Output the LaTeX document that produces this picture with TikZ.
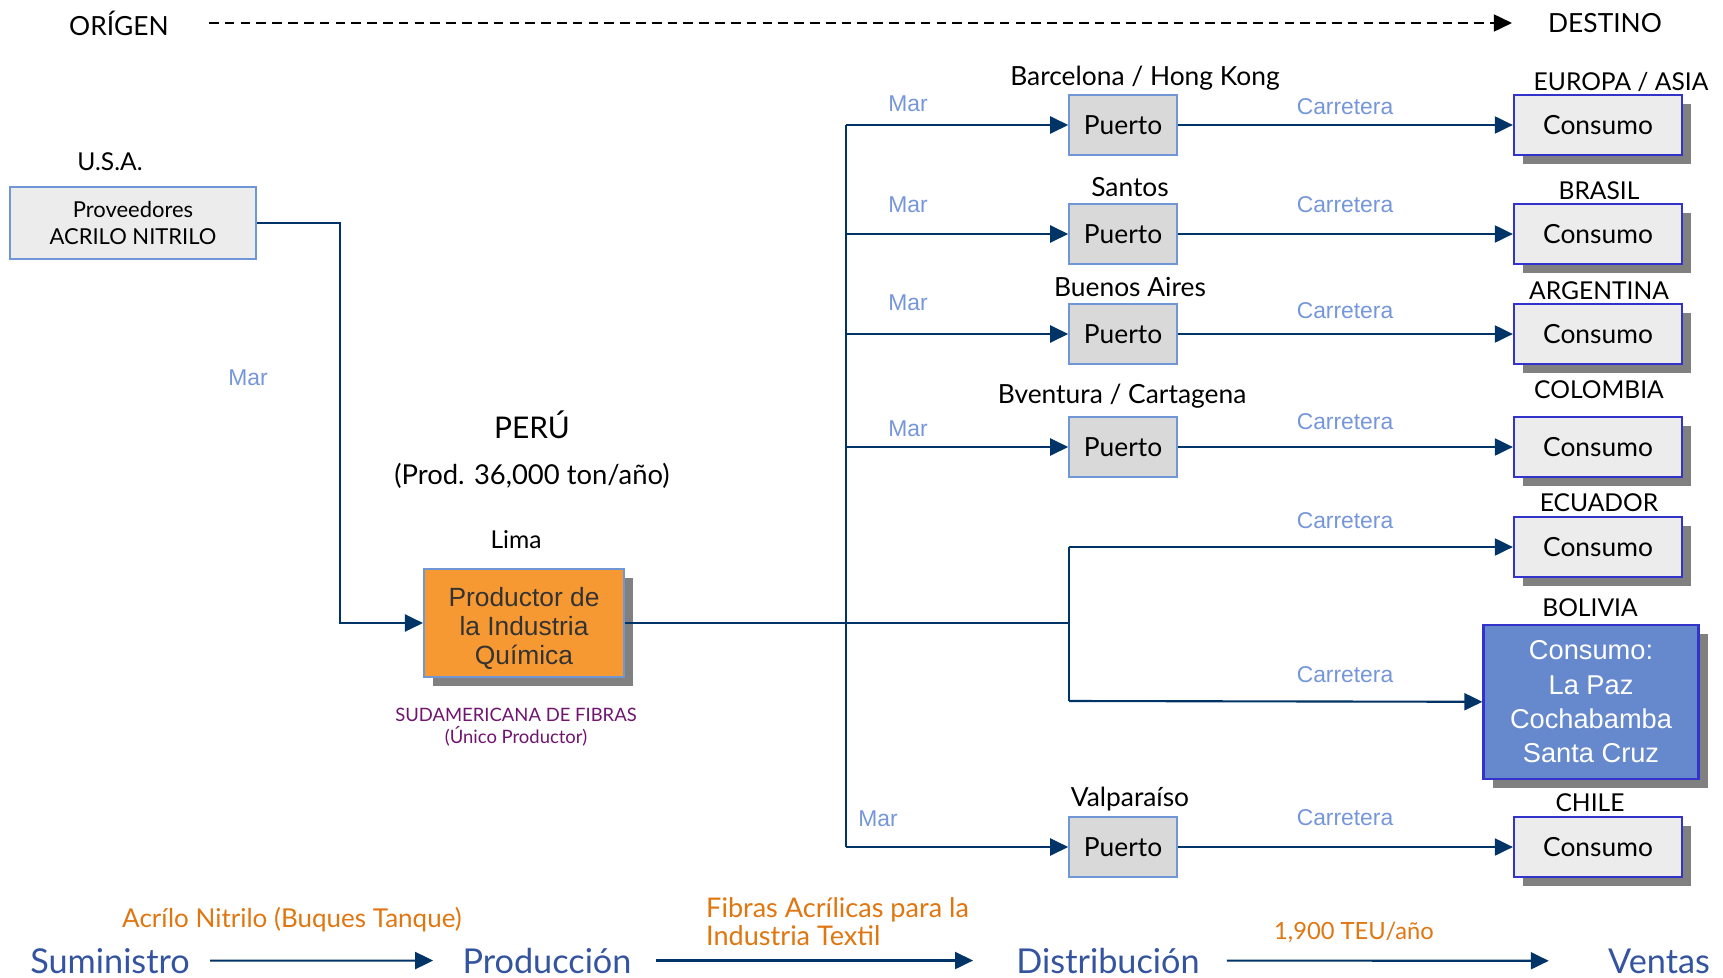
\documentclass[tikz,border=0pt]{standalone}
\usepackage{fontspec}
\setmainfont{Lato}
\newfontfamily\arialfont{Liberation Sans}
\usetikzlibrary{arrows.meta,shadows}

\definecolor{navy}{RGB}{0,51,102}
\definecolor{skyblue}{RGB}{117,150,218}
\definecolor{edgeblue}{RGB}{112,150,214}
\definecolor{deepblue}{RGB}{51,51,204}
\definecolor{boliviablue}{RGB}{102,136,204}
\definecolor{boxorange}{RGB}{247,153,51}
\definecolor{txtorange}{RGB}{224,118,16}
\definecolor{plum}{RGB}{112,20,112}
\definecolor{stageblue}{RGB}{52,84,160}

\tikzset{
  tip/.style={-{Triangle[length=0.36cm,width=0.34cm]}},
  link/.style={draw=navy, line width=1.2pt},
  flow/.style={link, tip},
  shade/.style={drop shadow={shadow xshift=0.18cm, shadow yshift=-0.18cm, fill=gray, opacity=1}},
  puerto/.style={draw=edgeblue, line width=0.9pt, fill=gray!30, minimum width=2.16cm,
    minimum height=1.2cm, font=\fontsize{15}{18}\selectfont},
  consumo/.style={draw=deepblue, line width=1.3pt, fill=gray!15, minimum width=3.36cm,
    minimum height=1.2cm, shade, font=\fontsize{15}{18}\selectfont},
  place/.style={font=\fontsize{15}{18}\selectfont},
  country/.style={font=\fontsize{14}{17}\selectfont},
  via/.style={text=skyblue, font=\arialfont\fontsize{13}{15}\selectfont},
  stage/.style={text=stageblue, inner sep=0pt, anchor=base, font=\fontsize{19.5}{22}\selectfont},
  cargo/.style={text=txtorange, font=\fontsize{14.8}{16}\selectfont}
}

\begin{document}
\begin{tikzpicture}[x=0.2mm, y=-0.2mm]
\useasboundingbox (0,0) rectangle (1723,977);

% origen - destino
\node[place] (orig) at (119,23) {ORÍGEN};
\node[place] (dest) at (1605,23) {DESTINO};
\draw[line width=1pt, dash pattern=on 5.5pt off 3.5pt, tip, shorten <=0.68cm, shorten >=0.6cm] (orig) -- (dest);

% proveedor y productor
\node[country] (usa) at (110,162) {U.S.A.};
\node[draw=edgeblue, line width=1.2pt, fill=gray!15, minimum width=4.92cm, minimum height=1.44cm,
  align=center, font=\fontsize{12.5}{15}\selectfont] (prov) at (133,223) {Proveedores\\ACRILO NITRILO};
\node[via] (mar0) at (248,378) {Mar};
\node[font=\fontsize{17}{20}\selectfont] (peru) at (532,425) {PERÚ};
\node[font=\fontsize{15.6}{18}\selectfont] (tons) at (532,476) {(Prod. 36,000 ton/año)};
\node[country] (lima) at (516,540) {Lima};
\node[draw=edgeblue, line width=1.2pt, fill=boxorange, minimum width=4cm, minimum height=2.16cm,
  shade, text=black!80, font=\arialfont\fontsize{15}{16.5}\selectfont] (prod) at (524,623)
  {\raisebox{-3pt}[\height][\depth]{\parbox{3.6cm}{\centering Productor de\\la Industria\\Química}}};
\node[text=plum, align=center, font=\fontsize{10.5}{12.5}\selectfont] (sdf) at (516,727)
  {SUDAMERICANA DE FIBRAS\\(Único Productor)};

\coordinate (bend) at (340,223);
\draw[flow] (prov.east) -- (bend) |- (prod.west);

% puertos
\node[puerto] (p1) at (1123,125) {Puerto};
\node[puerto] (p2) at (1123,234) {Puerto};
\node[puerto] (p3) at (1123,334) {Puerto};
\node[puerto] (p4) at (1123,447) {Puerto};
\node[puerto] (p5) at (1123,847) {Puerto};

\node[place] (l1) at (1145,78) {Barcelona / Hong Kong};
\node[place] (l2) at (1130,187) {Santos};
\node[place] (l3) at (1130,287) {Buenos Aires};
\node[place] (l4) at (1122,396) {Bventura / Cartagena};
\node[place] (l5) at (1130,799) {Valparaíso};

% consumo
\node[consumo] (c1) at (1598,125) {Consumo};
\node[consumo] (c2) at (1598,234) {Consumo};
\node[consumo] (c3) at (1598,334) {Consumo};
\node[consumo] (c4) at (1598,447) {Consumo};
\node[consumo] (c5) at (1598,547) {Consumo};
\node[consumo] (c6) at (1598,847) {Consumo};
\node[draw=deepblue, line width=1.3pt, fill=boliviablue, minimum width=4.3cm, minimum height=3.08cm,
  shade, align=center, text=white, font=\arialfont\fontsize{15.5}{19.5}\selectfont] (bol) at (1591,702)
  {Consumo:\\La Paz\\Cochabamba\\Santa Cruz};

\node[country] (k1) at (1621,82) {EUROPA / ASIA};
\node[country] (k2) at (1599,191) {BRASIL};
\node[country] (k3) at (1599,291) {ARGENTINA};
\node[country] (k4) at (1599,390) {COLOMBIA};
\node[country] (k5) at (1599,503) {ECUADOR};
\node[country] (k6) at (1590,608) {BOLIVIA};
\node[country] (k7) at (1590,803) {CHILE};

% via maritima
\coordinate (s1) at (846,125);
\coordinate (s2) at (846,234);
\coordinate (s3) at (846,334);
\coordinate (s4) at (846,447);
\coordinate (s5) at (846,847);
\coordinate (road) at (1069,623);
\coordinate (r1) at (1069,547);
\coordinate (r2) at (1069,701);

\draw[link] (prod.east) -- (road);
\draw[link] (s1) -- (s5);
\draw[flow] (s1) -- (p1);
\draw[flow] (s2) -- (p2);
\draw[flow] (s3) -- (p3);
\draw[flow] (s4) -- (p4);
\draw[flow] (s5) -- (p5);

% carretera
\draw[link] (r1) -- (r2);
\draw[flow] (r1) -- (c5);
\draw[flow] (r2) -- (bol);
\draw[flow] (p1) -- (c1);
\draw[flow] (p2) -- (c2);
\draw[flow] (p3) -- (c3);
\draw[flow] (p4) -- (c4);
\draw[flow] (p5) -- (c6);

\node[via] (m1) at (908,104) {Mar};
\node[via] (m2) at (908,205) {Mar};
\node[via] (m3) at (908,303) {Mar};
\node[via] (m4) at (908,429) {Mar};
\node[via] (m5) at (878,819) {Mar};

\node[via] (t1) at (1345,107) {Carretera};
\node[via] (t2) at (1345,205) {Carretera};
\node[via] (t3) at (1345,311) {Carretera};
\node[via] (t4) at (1345,422) {Carretera};
\node[via] (t5) at (1345,521) {Carretera};
\node[via] (t6) at (1345,675) {Carretera};
\node[via] (t7) at (1345,818) {Carretera};

% cadena
\node[stage] (sum) at (110,973) {Suministro};
\node[stage] (pro) at (547,973) {Producción};
\node[stage] (dis) at (1108,973) {Distribución};
\node[stage] (ven) at (1659,973) {Ventas};
\draw[flow, shorten <=0.4cm, shorten >=0.58cm] (sum) -- (pro);
\draw[flow, shorten <=0.48cm, shorten >=0.86cm] (pro) -- (dis);
\draw[flow, shorten <=0.54cm, shorten >=1.18cm] (dis) -- (ven);

\node[cargo] (acr) at (292,920) {Acrílo Nitrilo (Buques Tanque)};
\node[cargo, align=left, anchor=west, font=\fontsize{15.4}{16}\selectfont] (fib) at (700,922)
  {Fibras Acrílicas para la\\Industria Textil};
\node[cargo, font=\fontsize{13.5}{16}\selectfont] (teu) at (1354,932) {1,900 TEU/año};
\end{tikzpicture}
\end{document}
